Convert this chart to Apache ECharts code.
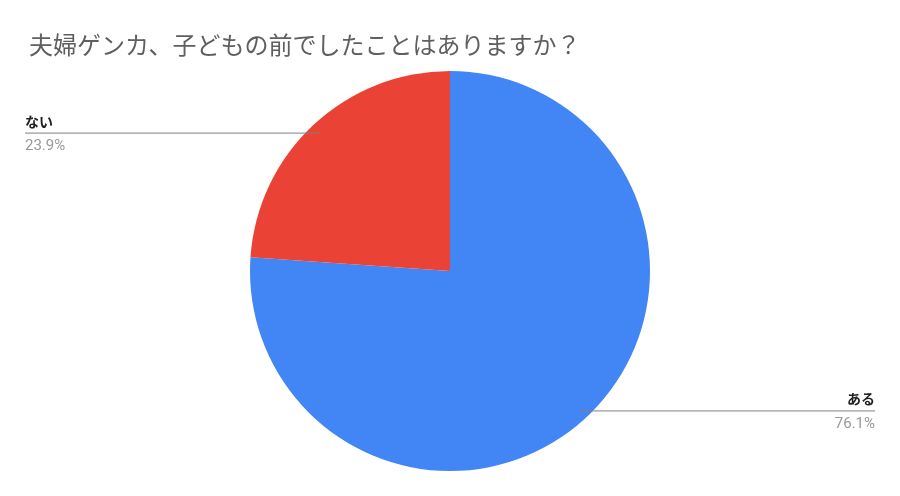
<!DOCTYPE html>
<html>
<head>
<meta charset="utf-8">
<script src="https://cdn.jsdelivr.net/npm/echarts@6/dist/echarts.min.js"></script>
<style>
  html, body { margin: 0; padding: 0; background: #fff; }
  #chart { width: 900px; height: 496px; }
</style>
</head>
<body>
<div id="chart"></div>
<script>
// データ
var titleText = '夫婦ゲンカ、子どもの前でしたことはありますか？';
var categories = ['ある', 'ない'];
var values = [76.1, 23.9];
var colors = ['#4285f4', '#ea4335'];

var pieData = [];
var labelData = [];
for (var i = 0; i < categories.length; i++) {
    pieData.push({ name: categories[i], value: values[i], itemStyle: { color: colors[i] } });
    labelData.push({ name: categories[i], value: values[i] });
}

var chart = echarts.init(document.getElementById('chart'));
var centerY = 271;
var font = "Roboto, 'Noto Sans CJK JP'";

chart.setOption({
    backgroundColor: '#fff',
    title: {
        text: titleText,
        left: 24,
        top: 31,
        textStyle: {
            fontFamily: font,
            fontSize: 24,
            fontWeight: 'normal',
            color: '#5f5f5f'
        }
    },
    series: [
        // 扇形
        {
            type: 'pie',
            center: ['50%', centerY],
            radius: 200,
            startAngle: 90,
            clockwise: true,
            animation: false,
            silent: true,
            z: 2,
            data: pieData,
            label: { show: false },
            labelLine: { show: false }
        },
        // ラベルと引き出し線（扇形の上に描く）
        {
            type: 'pie',
            center: ['50%', centerY],
            radius: 200,
            startAngle: 90,
            clockwise: true,
            animation: false,
            silent: true,
            z: 5,
            data: labelData,
            itemStyle: { color: 'rgba(0,0,0,0)' },
            label: {
                alignTo: 'edge',
                edgeDistance: 25,
                formatter: '{n|{b}}\n{v|{d}%}',
                rich: {
                    n: { fontFamily: font, fontSize: 14, fontWeight: 'bold', color: '#222', lineHeight: 22 },
                    v: { fontFamily: font, fontSize: 15, color: '#999', lineHeight: 24 }
                }
            },
            labelLine: {
                show: true,
                length: 0,
                length2: 0,
                lineStyle: { color: '#808080', width: 1 }
            },
            // 引き出し線を水平にして、扇形の少し内側から始める
            labelLayout: function (params) {
                var pts = params.labelLinePoints;
                var cx = chart.getWidth() / 2;
                var px = cx + (pts[0][0] - cx) * 0.95;
                var py = centerY + (pts[0][1] - centerY) * 0.95 + 1;
                var isLeft = px < cx;
                var r = params.labelRect;
                var ex = isLeft ? r.x : r.x + r.width;
                return {
                    y: py + 2,
                    labelLinePoints: [[px, py], [px, py], [ex, py]]
                };
            }
        }
    ]
});
</script>
</body>
</html>
